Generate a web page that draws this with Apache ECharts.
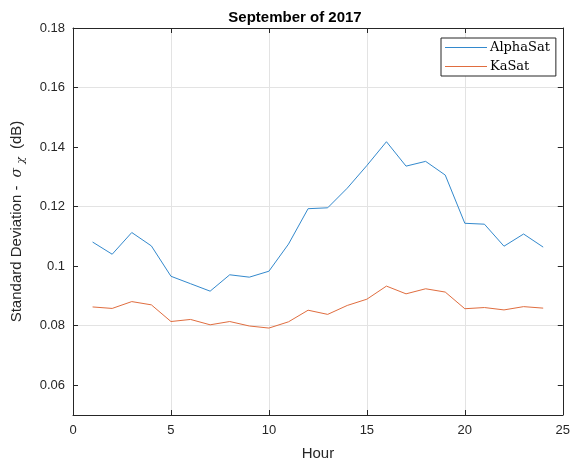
<!DOCTYPE html>
<html>
<head>
<meta charset="utf-8">
<script src="https://cdn.jsdelivr.net/npm/echarts@6/dist/echarts.min.js"></script>
<style>
  html, body { margin: 0; padding: 0; background: #fff; }
  #chart { width: 573px; height: 466px; }
</style>
</head>
<body>
<div id="chart"></div>
<script>
// hours 1..24
const hours = [1, 2, 3, 4, 5, 6, 7, 8, 9, 10, 11, 12, 13, 14, 15, 16, 17, 18, 19, 20, 21, 22, 23, 24]
const alphaSat = [0.1081, 0.1040, 0.1113, 0.1068, 0.0966, 0.0941, 0.0916, 0.0971, 0.0963, 0.0983, 0.1074, 0.1193,
  0.1196, 0.1262, 0.1338, 0.1418, 0.1336, 0.1352, 0.1306, 0.1144, 0.1141, 0.1067, 0.1108, 0.1064]
const kaSat = [0.0863, 0.0858, 0.0881, 0.0870, 0.0814, 0.0821, 0.0803, 0.0814, 0.0799, 0.0792, 0.0813, 0.0852,
  0.0838, 0.0868, 0.0889, 0.0933, 0.0907, 0.0924, 0.0913, 0.0857, 0.0861, 0.0853, 0.0864, 0.0859]
const yTicks = [0.06, 0.08, 0.1, 0.12, 0.14, 0.16, 0.18]

const axisColor = '#262626'
const gridColor = '#e3e3e3'
const font = 'Liberation Sans, Arial, sans-serif'
const blue = '#3389cd'
const orange = '#e06d3f'

const chart = echarts.init(document.getElementById('chart'), null, { renderer: 'canvas' })

// shared look for the box axes (matlab style, ticks inside)
const boxAxis = {
  axisLine: { show: true, onZero: false, lineStyle: { color: axisColor, width: 1 } },
  axisTick: { show: true, inside: true, length: 5, lineStyle: { color: axisColor } }
}

chart.setOption({
  animation: false,
  backgroundColor: '#fff',
  title: {
    text: 'September of 2017',
    left: 290,
    top: 5,
    textAlign: 'center',
    textStyle: { fontFamily: font, fontSize: 15, fontWeight: 'bold', color: '#000' }
  },
  legend: {
    left: 441,
    top: 38,
    orient: 'vertical',
    icon: 'rect',
    itemWidth: 42,
    itemHeight: 1,
    itemGap: 6,
    padding: [3, 6, 3, 4],
    borderColor: axisColor,
    borderWidth: 1,
    backgroundColor: '#fff',
    textStyle: { fontFamily: 'DejaVu Serif, Liberation Serif, serif', fontSize: 13, color: '#000', padding: [0, 0, 0, -2], lineHeight: 13 }
  },
  grid: { left: 73, right: 8, top: 28, bottom: 51 },
  xAxis: [
    Object.assign({
      type: 'value', min: 0, max: 25, interval: 5, position: 'bottom',
      name: 'Hour', nameLocation: 'middle', nameGap: 31,
      nameTextStyle: { fontFamily: font, fontSize: 15, color: axisColor },
      axisLabel: { fontFamily: font, fontSize: 13, color: axisColor, margin: 9 },
      splitLine: { show: true, lineStyle: { color: gridColor, width: 1 } }
    }, boxAxis),
    Object.assign({
      type: 'value', min: 0, max: 25, interval: 5, position: 'top',
      axisLabel: { show: false }, splitLine: { show: false }
    }, boxAxis)
  ],
  yAxis: [
    Object.assign({}, boxAxis, {
      type: 'value', min: 0.05, max: 0.18, interval: 0.01, position: 'left',
      name: 'Standard Deviation - {s|σ}{c|χ} (dB)',
      nameLocation: 'middle', nameGap: 46, nameRotate: 90,
      nameTextStyle: {
        fontFamily: font, fontSize: 15, color: axisColor,
        rich: {
          s: { fontFamily: 'DejaVu Serif, serif', fontStyle: 'italic', fontSize: 14, color: axisColor, padding: [0, 4, 0, 4] },
          c: { fontFamily: 'DejaVu Serif, serif', fontStyle: 'italic', fontSize: 11, color: axisColor, padding: [9, 4, 0, 0] }
        }
      },
      axisLabel: {
        fontFamily: font, fontSize: 13, color: axisColor, margin: 8,
        customValues: yTicks
      },
      axisTick: { show: true, inside: true, length: 5, lineStyle: { color: axisColor }, customValues: yTicks },
      splitLine: { show: true, lineStyle: { color: ['rgba(0,0,0,0)', gridColor], width: 1 } }
    }),
    Object.assign({}, boxAxis, {
      type: 'value', min: 0.05, max: 0.18, interval: 0.01, position: 'right',
      axisLabel: { show: false },
      axisTick: { show: true, inside: true, length: 5, lineStyle: { color: axisColor }, customValues: yTicks },
      splitLine: { show: false }
    })
  ],
  series: [
    {
      name: 'AlphaSat',
      type: 'line',
      symbol: 'none',
      data: hours.map((h, i) => [h, alphaSat[i]]),
      lineStyle: { color: blue, width: 1 },
      itemStyle: { color: blue }
    },
    {
      name: 'KaSat',
      type: 'line',
      symbol: 'none',
      data: hours.map((h, i) => [h, kaSat[i]]),
      lineStyle: { color: orange, width: 1 },
      itemStyle: { color: orange }
    }
  ]
})
</script>
</body>
</html>
